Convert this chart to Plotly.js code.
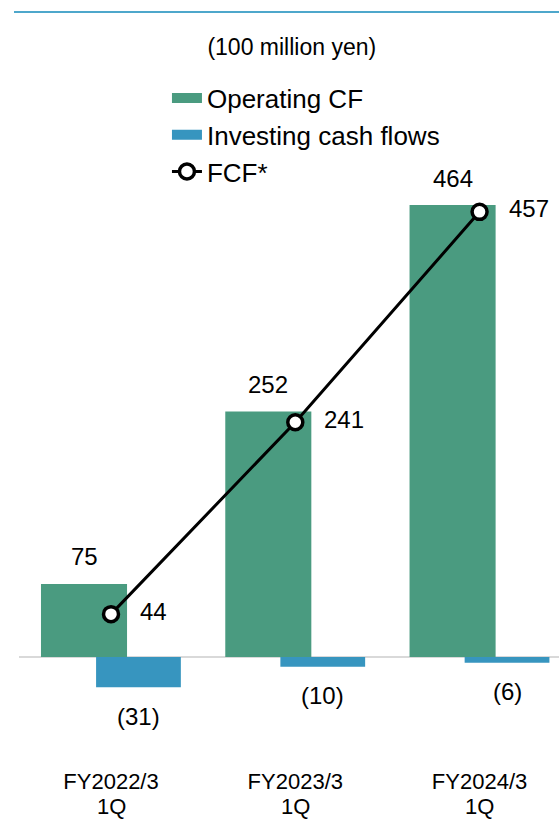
<!DOCTYPE html>
<html>
<head>
<meta charset="utf-8">
<script src="https://cdn.plot.ly/plotly-3.0.1.min.js"></script>
<style>html,body{margin:0;padding:0;background:#fff;}#chart{width:559px;height:819px;}</style>
</head>
<body>
<div id="chart"></div>
<script>
const categoryYears = ["FY2022/3", "FY2023/3", "FY2024/3"];
const categoryQuarters = ["1Q", "1Q", "1Q"];
const operatingCF = [75, 252, 464];
const investingCF = [-31, -10, -6];
const fcf = [44, 241, 457];
const seriesNames = ["Operating CF", "Investing cash flows", "FCF*"];

const GREEN = "#4a9b80";
const BLUE = "#3795bf";
const FONT = "Liberation Sans, Arial, sans-serif";

const opOffset = -0.38, opWidth = 0.467;
const invOffset = -0.081, invWidth = 0.46;

function fmt(v){ return v < 0 ? "(" + Math.abs(v) + ")" : String(v); }

const idx = categoryYears.map((c, i) => i);

const traces = [
  {type: "bar", x: idx, y: operatingCF, offset: opOffset, width: opWidth,
   marker: {color: GREEN}, showlegend: false, hoverinfo: "skip"},
  {type: "bar", x: idx, y: investingCF, offset: invOffset, width: invWidth,
   marker: {color: BLUE}, showlegend: false, hoverinfo: "skip"},
  {type: "scatter", mode: "lines+markers", x: idx, y: fcf,
   line: {color: "#000", width: 3},
   marker: {symbol: "circle", size: 15, color: "#fff", line: {color: "#000", width: 3.5}},
   showlegend: false, hoverinfo: "skip"},
  // legend entries
  {type: "scatter", mode: "lines", x: [null], y: [null], name: seriesNames[0],
   line: {color: GREEN, width: 12}, legendgroup: "a"},
  {type: "scatter", mode: "lines", x: [null], y: [null], name: seriesNames[1],
   line: {color: BLUE, width: 12}, legendgroup: "b"},
  {type: "scatter", mode: "lines+markers", x: [null], y: [null], name: seriesNames[2],
   line: {color: "#000", width: 3},
   marker: {symbol: "circle", size: 15, color: "#fff", line: {color: "#000", width: 3.5}},
   legendgroup: "c"}
];

const annotations = [];
idx.forEach(i => {
  annotations.push({x: i + opOffset + opWidth / 2, y: operatingCF[i], xref: "x", yref: "y",
    text: fmt(operatingCF[i]), showarrow: false, yanchor: "middle", yshift: 27,
    font: {size: 24, color: "#000", family: FONT}});
  annotations.push({x: i + invOffset + invWidth / 2, y: investingCF[i], xref: "x", yref: "y",
    text: fmt(investingCF[i]), showarrow: false, yanchor: "middle", yshift: -29,
    font: {size: 24, color: "#000", family: FONT}});
  annotations.push({x: i, y: fcf[i], xref: "x", yref: "y",
    text: fmt(fcf[i]), showarrow: false, xanchor: "left", yanchor: "middle", xshift: 27, yshift: 3,
    font: {size: 24, color: "#000", family: FONT}});
  annotations.push({x: i, y: -66 / 590, xref: "x", yref: "paper",
    text: categoryQuarters[i], showarrow: false, xanchor: "center", yanchor: "middle",
    font: {size: 22, color: "#000", family: FONT}});
});

const layout = {
  width: 559, height: 819,
  margin: {l: 19, r: 0, t: 150, b: 79},
  paper_bgcolor: "#fff", plot_bgcolor: "#fff",
  barmode: "overlay",
  font: {family: FONT, color: "#000"},
  title: {text: "(100 million yen)", x: 0.522, xanchor: "center", xref: "container",
    y: 1 - 47 / 819, yanchor: "middle", yref: "container",
    font: {size: 23, color: "#000", family: FONT}},
  xaxis: {range: [-0.4993, 2.431], tickmode: "array", tickvals: idx, ticktext: categoryYears,
    showgrid: false, zeroline: false, showline: false, ticks: "",
    tickfont: {size: 22, color: "#000", family: FONT}, ticklabelstandoff: 26, fixedrange: true},
  yaxis: {range: [-85.2, 520.5], showgrid: false, showticklabels: false, ticks: "",
    zeroline: true, zerolinecolor: "#d9d9d9", zerolinewidth: 2, showline: false, fixedrange: true},
  legend: {x: 0.274, xanchor: "left", y: 1.128, yanchor: "top", bgcolor: "rgba(0,0,0,0)",
    font: {size: 26, color: "#000", family: FONT}, tracegroupgap: 0, traceorder: "normal"},
  shapes: [{type: "line", xref: "paper", yref: "paper", x0: -0.00926, x1: 1,
    y0: 1 + 138 / 590, y1: 1 + 138 / 590, line: {color: "#4ea7cb", width: 2}}],
  annotations: annotations
};

Plotly.newPlot("chart", traces, layout, {displayModeBar: false, staticPlot: true});
</script>
</body>
</html>
